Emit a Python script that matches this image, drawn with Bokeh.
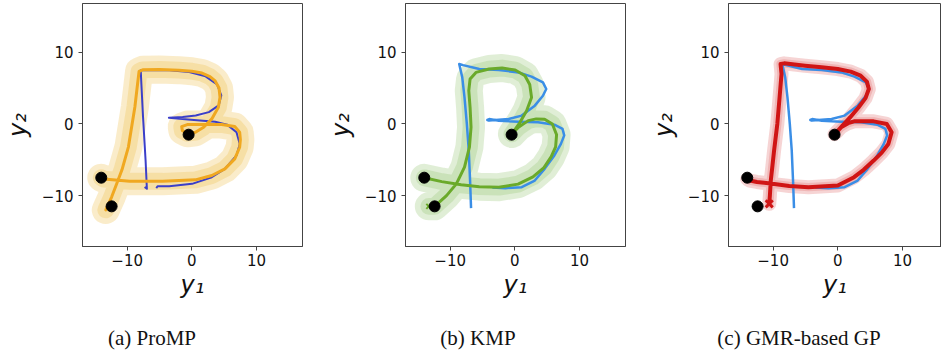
from bokeh.plotting import figure
from bokeh.layouts import row, column
from bokeh.models import Div, FixedTicker
from bokeh.embed import file_html
from bokeh.resources import INLINE

# ---------------- data ----------------
tick_values = [-10, 0, 10]
tick_labels = ["\u221210", "0", "10"]
captions = ["(a) ProMP", "(b) KMP", "(c) GMR-based GP"]

via_y1 = [-12.4, -14.0, -0.5]
via_y2 = [-11.5, -7.5, -1.5]

# (a) ProMP: demonstration (dark blue) and mean (orange)
promp_demo_y1 = [-7.3, -6.95, -7.15, -7.54, -7.8, -7.9, -5.5, -3.45, -0.41, 2.12, 3.9, 4.55, 4.15, 2.63, 0.6,
                 -1.42, -3.55, -0.6, 3.6, 5.45, 6.9, 7.4, 6.9, 5.1, 3.08, 0.04, -3.5, -5.3, -5.5]
promp_demo_y2 = [-8.8, -9.05, -5.1, 0.91, 5.55, 7.48, 7.5, 7.48, 7.25, 6.64, 5.5, 3.97, 2.58, 1.65, 1.18,
                 0.95, 0.86, 0.62, 0.3, -0.1, -1.16, -2.79, -4.4, -6.27, -7.43, -8.36, -8.7, -8.7, -8.95]

promp_mean_y1 = [-13.3, -12.4, -11.6, -10.8, -9.8, -8.8, -8.4, -8.16, -7.6, -5.0, -2.0, 0.0, 1.57, 2.8, 3.6,
                 4.2, 4.35, 4.1, 3.08, 1.82, 0.55, -0.71, -1.47, -1.57, -0.71, 1.57, 4.6, 6.63, 7.39, 7.5,
                 7.39, 6.63, 5.11, 3.08, 0.55, -4.52, -9.6, -13.6, -14.0]
promp_mean_y2 = [-12.0, -10.2, -8.3, -6.4, -3.2, 2.4, 5.5, 7.33, 7.55, 7.6, 7.5, 7.35, 7.1, 6.6, 6.0,
                 5.0, 3.71, 2.32, 0.7, -0.46, -1.16, -1.3, -0.93, -0.37, -0.09, -0.09, -0.09, -0.37, -1.16, -2.2,
                 -3.25, -4.87, -6.27, -7.2, -7.8, -8.0, -8.0, -7.7, -7.5]

# (b), (c): demonstration (light blue)
demo_y1 = [-6.77, -6.92, -7.12, -7.42, -7.78, -8.13, -8.6, -8.0, -5.5, -2.47, 0.56, 2.58, 4.34, 4.85, 4.34,
           3.08, 1.06, -0.96, -2.98, -3.99, -4.25, -3.95, -2.47, 0.56, 3.59, 6.11, 7.37, 7.63, 7.12, 6.11,
           4.6, 3.08, 1.06, -1.46, -3.48]
demo_y2 = [-11.75, -7.9, -3.71, 0.0, 3.71, 6.5, 8.35, 8.2, 7.66, 7.52, 7.19, 6.59, 5.8, 4.87, 3.94,
           2.55, 1.16, 0.69, 0.55, 0.46, 0.55, 0.68, 0.45, 0.32, 0.23, -0.1, -0.7, -1.6, -2.78, -4.4,
           -6.27, -7.9, -8.82, -8.96, -8.87]

# (b) KMP mean (green)
kmp_mean_y1 = [-13.3, -12.4, -10.56, -9.04, -7.78, -7.02, -6.77, -6.92, -7.12, -6.92, -6.01, -3.99, -1.97,
               0.05, 1.56, 2.3, 2.58, 1.82, 0.8, -0.45, 0.56, 2.07, 3.3, 4.6, 5.8, 6.45, 6.3, 5.6, 4.5,
               2.8, 0.5, -2.47, -5.5, -8.3, -11.3, -14.0]
kmp_mean_y2 = [-11.5, -11.5, -10.0, -8.36, -6.03, -3.25, -0.46, 2.32, 4.64, 6.26, 7.19, 7.66, 7.8,
               7.52, 6.73, 5.5, 3.7, 1.85, 0.22, -1.4, -0.47, 0.46, 0.7, 0.65, 0.0, -1.5, -3.2, -4.6, -6.1,
               -7.4, -8.4, -8.82, -8.75, -8.5, -8.05, -7.52]
kmp_start_y1 = [-13.3]
kmp_start_y2 = [-11.5]

# (c) GMR-based GP mean (red)
gp_mean_y1 = [-10.6, -10.5, -10.36, -10.1, -9.85, -9.35, -9.0, -8.7, -8.85, -8.3, -5.06, -2.5, 0.0, 2.0,
              3.53, 4.5, 4.8, 4.29, 3.2, 1.9, 0.76, -0.5, 0.5, 1.6, 2.52, 5.55, 7.58, 8.33, 7.82, 6.8,
              5.55, 4.0, 2.52, 0.0, -4.54, -7.5, -10.1, -12.5, -13.6, -14.0]
gp_mean_y2 = [-11.15, -10.0, -7.9, -5.8, -3.71, 0.0, 3.71, 6.96, 8.35, 8.45, 8.12, 7.9, 7.66, 7.3,
              6.73, 5.9, 4.87, 3.6, 2.3, 0.9, -0.2, -1.45, -0.47, 0.1, 0.36, 0.36, 0.0, -1.16, -2.79, -4.0,
              -5.11, -6.4, -7.43, -8.59, -8.82, -8.65, -8.36, -8.1, -7.9, -7.7]
gp_start_y1 = [-10.6]
gp_start_y2 = [-11.15]

# ---------------- styling helpers ----------------
AX = "#444444"
TXT = "#111111"


def make_panel(width, border_right, x_end):
    p = figure(width=width, height=324, x_range=(-16.9, x_end), y_range=(-17.1, 16.8),
               output_backend="svg", toolbar_location=None,
               min_border_left=78, min_border_right=border_right,
               min_border_top=1, min_border_bottom=80)
    p.grid.visible = False
    p.outline_line_color = AX
    p.outline_line_width = 1
    p.background_fill_color = "white"
    p.border_fill_color = "white"
    for ax in (p.xaxis[0], p.yaxis[0]):
        ax.ticker = FixedTicker(ticks=tick_values)
        ax.major_label_overrides = dict(zip(tick_values, tick_labels))
        ax.major_label_text_font = "DejaVu Sans"
        ax.major_label_text_font_size = "15px"
        ax.major_label_text_color = TXT
        ax.axis_label_text_font = "DejaVu Sans"
        ax.axis_label_text_font_size = "24px"
        ax.axis_label_text_font_style = "italic"
        ax.axis_label_text_color = TXT
        ax.major_tick_in = 0
        ax.major_tick_out = 4
        ax.major_tick_line_color = AX
        ax.minor_tick_line_color = None
        ax.axis_line_color = AX
    p.xaxis.axis_label = "y\u2081"
    p.yaxis.axis_label = "y\u2082"
    p.xaxis.major_label_standoff = 3
    p.xaxis.axis_label_standoff = 2
    p.yaxis.major_label_standoff = 5
    p.yaxis.axis_label_standoff = 7
    return p


def band(p, xs, ys, color, w):
    p.line(xs, ys, line_width=w, line_color=color, line_alpha=0.3,
           line_join="round", line_cap="round")
    p.line(xs, ys, line_width=w * 0.6, line_color=color, line_alpha=0.3,
           line_join="round", line_cap="round")


def vias(p):
    p.scatter(via_y1, via_y2, size=11, color="black")


# (a) ProMP
p1 = make_panel(323, 21, 17.1)
band(p1, promp_mean_y1, promp_mean_y2, "#f0c050", 28)
p1.line(promp_demo_y1, promp_demo_y2, line_width=2, line_color="#3b3fc9", line_join="round")
p1.line(promp_mean_y1, promp_mean_y2, line_width=3, line_color="#f0a820", line_join="round", line_cap="round")
vias(p1)

# (b) KMP
p2 = make_panel(323, 21, 17.1)
band(p2, kmp_mean_y1, kmp_mean_y2, "#98c878", 28)
p2.line(demo_y1, demo_y2, line_width=2.5, line_color="#3a8ee6", line_join="round")
p2.line(kmp_mean_y1, kmp_mean_y2, line_width=3, line_color="#6aaa2a", line_join="round", line_cap="round")
p2.scatter(kmp_start_y1, kmp_start_y2, marker="x", size=7, line_width=2, color="#6aaa2a")
vias(p2)

# (c) GMR-based GP
p3 = make_panel(295, 0, 16.04)
band(p3, gp_mean_y1, gp_mean_y2, "#e07070", 14)
p3.line(demo_y1, demo_y2, line_width=2.5, line_color="#3a8ee6", line_join="round")
p3.line(gp_mean_y1, gp_mean_y2, line_width=4, line_color="#d01515", line_join="round", line_cap="round")
p3.scatter(gp_start_y1, gp_start_y2, marker="x", size=10, line_width=3, color="#d01515")
vias(p3)


def caption(text, w):
    return Div(text=text, width=w, height=24, margin=(0, 0, 0, 0),
               styles={"text-align": "center", "font-family": "'Liberation Serif', serif",
                       "font-size": "21px", "color": TXT, "line-height": "1.15"})


layout = row(column(p1, caption(captions[0], 304)),
             column(p2, caption(captions[1], 310)),
             column(p3, caption(captions[2], 306)),
             margin=(2, 0, -20, 0))

open("out.html", "w").write(file_html(layout, INLINE))
